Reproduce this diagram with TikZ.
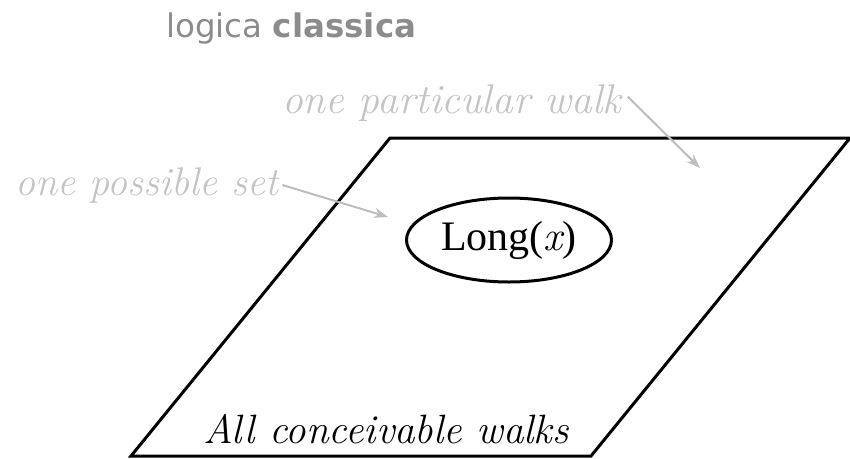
\documentclass[tikz,border=0pt]{standalone}
\usepackage{fontspec}
\setmainfont{Liberation Serif}
\newfontfamily\titlefont{DejaVu Sans}
\newfontfamily\lmr{Latin Modern Roman}
\newcommand{\lmit}{\lmr\itshape}
\usetikzlibrary{shapes.geometric,arrows.meta}
\definecolor{titlegray}{HTML}{8C8C8C}
\definecolor{notegray}{HTML}{C4C4C4}
\definecolor{arrowgray}{HTML}{BDBDBD}
\tikzset{
  notetext/.style={text=notegray,font=\fontsize{40}{46}\selectfont\lmit,inner sep=0pt},
  notearrow/.style={draw=arrowgray,line width=2pt,-{Stealth[length=14pt,width=10pt]}},
  frame/.style={draw=black,line width=3pt,line join=miter},
}
\begin{document}
\begin{tikzpicture}[x=1pt,y=-1pt]
\useasboundingbox (0,0) rectangle (850,458);
\node[anchor=base west,inner sep=0pt,text=titlegray,font=\fontsize{32.5}{38}\selectfont\titlefont] (title) at (166,37) {logica \textbf{classica}};
\coordinate (p1) at (390,138);
\coordinate (p2) at (850,138);
\coordinate (p3) at (591,456);
\coordinate (p4) at (131,456);
\draw[frame] (p1) -- (p2) -- (p3) -- (p4) -- cycle;
\node[ellipse,draw,line width=3pt,minimum width=205pt,minimum height=84pt,inner sep=0pt,font=\fontsize{42}{48}\selectfont] (long) at (509,240) {Long({\lmit x})};
\node[anchor=base west,inner sep=0pt,font=\fontsize{41}{48}\selectfont\lmit] (all) at (203,443) {All conceivable walks};
\node[notetext,anchor=base west] (set) at (15,195) {one possible set};
\node[notetext,anchor=base west,font=\fontsize{41.5}{46}\selectfont\lmit] (walk) at (282,113) {one particular walk};
\coordinate (setend) at (388,217);
\coordinate (walkend) at (700,168);
\draw[notearrow] (set.east) ++(4,0) -- (setend);
\draw[notearrow] (walk.east) ++(6,-6) -- (walkend);
\end{tikzpicture}
\end{document}
